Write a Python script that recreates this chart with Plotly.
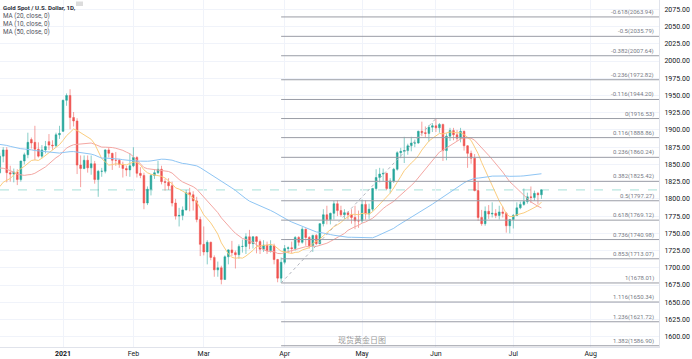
import pandas as pd
import plotly.graph_objects as go

# ---------------- data ----------------
# closes before the visible window (only used to warm up the moving averages)
warmup_close = [1868, 1862, 1881, 1898, 1886,
                1906, 1900, 1913, 1877, 1887, 1893, 1930, 1922, 1891, 1902, 1908,
                1899, 1905, 1907, 1925, 1904, 1902, 1902, 1908, 1878, 1868, 1879,
                1894, 1909, 1904, 1948, 1951, 1862, 1877, 1866, 1873, 1889, 1887,
                1879, 1872, 1866, 1871, 1837, 1807, 1808, 1811, 1788, 1777,
                1815, 1830, 1841, 1838]

opens = [1838, 1862, 1871, 1838, 1836, 1839, 1828, 1855, 1864, 1886, 1882, 1872, 1862, 1871, 1883, 1878, 1877, 1893,
         1898, 1943, 1950, 1918, 1913, 1849, 1844, 1856, 1845, 1851, 1828, 1840, 1840, 1871, 1866, 1856, 1856, 1850, 1844, 1842,
         1848, 1860, 1837, 1834, 1794, 1814, 1834, 1838, 1843, 1825, 1824, 1819, 1794, 1775, 1776, 1784, 1809, 1806, 1797, 1770,
         1734, 1723, 1737, 1715, 1697, 1700, 1683, 1716, 1726, 1722, 1719, 1731, 1731, 1745, 1735, 1745, 1738, 1727, 1733, 1725, 1732, 1712, 1685,
         1708, 1728, 1729, 1728, 1744, 1737, 1756, 1744, 1732, 1747, 1735, 1764, 1777, 1770, 1779, 1793, 1783, 1777, 1780, 1777, 1773, 1768,
         1768, 1792, 1778, 1785, 1815, 1831, 1836, 1837, 1815, 1826, 1843, 1867, 1869, 1870, 1877, 1881, 1881, 1898, 1896, 1895, 1904,
         1906, 1903, 1908, 1870, 1891, 1899, 1893, 1888, 1898, 1877, 1866, 1859, 1812, 1773, 1764, 1782, 1778, 1779, 1776, 1781, 1779, 1761,
         1770, 1776, 1787, 1792, 1796, 1803, 1802, 1808, 1806]
highs = [1867, 1875, 1875, 1848, 1844, 1843, 1855, 1867, 1896, 1889, 1906, 1882, 1878, 1884, 1894, 1885, 1896, 1906,
         1944, 1953, 1959, 1926, 1917, 1863, 1863, 1863, 1863, 1855, 1842, 1845, 1872, 1875, 1867, 1868, 1858, 1854, 1848, 1866,
         1875, 1862, 1846, 1838, 1818, 1836, 1843, 1855, 1848, 1829, 1830, 1825, 1800, 1787, 1789, 1813, 1816, 1811, 1803, 1774,
         1760, 1740, 1738, 1718, 1709, 1703, 1718, 1727, 1739, 1725, 1734, 1741, 1750, 1755, 1746, 1746, 1741, 1740, 1738, 1740, 1735, 1713, 1715,
         1733, 1731, 1738, 1746, 1746, 1759, 1757, 1746, 1748, 1749, 1765, 1785, 1790, 1780, 1797, 1798, 1790, 1785, 1782, 1785, 1790, 1783,
         1799, 1798, 1793, 1816, 1843, 1845, 1844, 1838, 1830, 1845, 1869, 1874, 1890, 1880, 1890, 1886, 1899, 1912, 1905, 1907, 1910,
         1916.5, 1910, 1909, 1895, 1903, 1903, 1900, 1903, 1899, 1878, 1870, 1865, 1825, 1784, 1789, 1791, 1795, 1785, 1790, 1789, 1781, 1771,
         1778, 1795, 1796, 1815, 1809, 1818, 1812, 1810, 1814]
lows = [1836, 1853, 1824, 1825, 1824, 1820, 1825, 1850, 1859, 1873, 1856, 1860, 1859, 1866, 1871, 1871, 1875, 1887,
        1897, 1935, 1901, 1905, 1836, 1817, 1843, 1838, 1835, 1822, 1803, 1832, 1837, 1860, 1842, 1848, 1845, 1831, 1833, 1832,
        1846, 1831, 1830, 1785, 1791, 1805, 1829, 1836, 1821, 1812, 1813, 1789, 1770, 1760, 1769, 1783, 1782, 1783, 1766, 1717,
        1718, 1705, 1711, 1687, 1687, 1676, 1683, 1705, 1717, 1699, 1713, 1722, 1720, 1727, 1728, 1721, 1720, 1723, 1720, 1722, 1705, 1679, 1678,
        1705, 1721, 1721, 1725, 1732, 1735, 1732, 1728, 1723, 1733, 1734, 1760, 1763, 1763, 1770, 1775, 1774, 1771, 1770, 1764, 1756, 1758,
        1765, 1770, 1771, 1782, 1812, 1824, 1826, 1813, 1808, 1823, 1841, 1859, 1852, 1864, 1869, 1875, 1880, 1891, 1889, 1883, 1897,
        1897, 1896, 1855, 1856, 1884, 1885, 1884, 1882, 1870, 1845, 1851, 1811, 1768, 1761, 1761, 1771, 1773, 1772, 1770, 1773, 1751, 1750,
        1757, 1775, 1785, 1790, 1793, 1794, 1797, 1792, 1800]
closes = [1862, 1871, 1838, 1836, 1839, 1828, 1855, 1864, 1882, 1881, 1872, 1862, 1871, 1876, 1878, 1877, 1893, 1895,
          1943, 1950, 1918, 1913, 1849, 1844, 1856, 1845, 1851, 1828, 1840, 1840, 1871, 1866, 1856, 1856, 1850, 1844, 1842, 1848,
          1860, 1837, 1834, 1794, 1814, 1834, 1838, 1843, 1825, 1824, 1819, 1794, 1775, 1776, 1784, 1809, 1806, 1797, 1770, 1734,
          1723, 1737, 1715, 1697, 1700, 1683, 1716, 1726, 1722, 1719, 1731, 1731, 1745, 1735, 1745, 1738, 1727, 1733, 1725, 1732, 1712, 1685, 1708,
          1728, 1729, 1728, 1744, 1737, 1756, 1744, 1732, 1747, 1735, 1764, 1777, 1770, 1779, 1793, 1783, 1777, 1780, 1777, 1773, 1768, 1768,
          1792, 1778, 1785, 1815, 1831, 1836, 1837, 1815, 1826, 1843, 1867, 1869, 1870, 1877, 1881, 1881, 1898, 1896, 1895, 1904, 1906,
          1903, 1908, 1870, 1891, 1899, 1893, 1888, 1898, 1877, 1866, 1859, 1812, 1773, 1764, 1782, 1778, 1779, 1776, 1781, 1779, 1761, 1770,
          1776, 1787, 1792, 1796, 1803, 1802, 1808, 1806, 1813]

holidays = ["2020-12-25", "2021-01-01"]
warmup_dates = pd.bdate_range("2020-09-24", "2020-12-04")
dates = [d for d in pd.bdate_range("2020-12-07", "2021-07-13") if d.strftime("%Y-%m-%d") not in holidays]
assert len(warmup_dates) == len(warmup_close)
assert len(dates) == len(opens) == len(highs) == len(lows) == len(closes)

# moving averages
ma_specs = [("MA (20, close, 0)", 20, "#f4a7a3"), ("MA (10, close, 0)", 10, "#fbcd7e"), ("MA (50, close, 0)", 50, "#8ec5f4")]

# fibonacci retracement drawn from the Mar-31 low to the Jun-1 high
fib_start = "2021-03-31"
fib_end = "2021-06-01"
fib_low = 1678.01
fib_high = 1916.53
fib_levels = ["-0.618", "-0.5", "-0.382", "-0.236", "-0.116", "0", "0.116", "0.236", "0.382",
              "0.5", "0.618", "0.736", "0.853", "1", "1.116", "1.236", "1.382"]
fib_prices = [2063.94, 2035.79, 2007.64, 1972.82, 1944.20, 1916.53, 1888.86, 1860.24, 1825.42,
              1797.27, 1769.12, 1740.98, 1713.07, 1678.01, 1650.34, 1621.72, 1586.90]

month_ticks = ["2021-01-04", "2021-02-01", "2021-03-01", "2021-04-01", "2021-05-03", "2021-06-01", "2021-07-01", "2021-08-02"]
month_text = ["<b>2021</b>", "Feb", "Mar", "Apr", "May", "Jun", "Jul", "Aug"]

title_text = "Gold Spot / U.S. Dollar, 1D,"
watermark = "现货黄金日图"

# ---------------- figure ----------------
all_dates = list(warmup_dates) + list(dates)
all_close = pd.Series(warmup_close + closes, index=all_dates)

fig = go.Figure()

for name, n, col in ma_specs:
    ma = all_close.rolling(n).mean().dropna()
    fig.add_trace(go.Scatter(x=ma.index, y=ma.values, mode="lines", name=name,
                             line=dict(color=col, width=1), hoverinfo="skip"))

fig.add_trace(go.Candlestick(
    x=dates, open=opens, high=highs, low=lows, close=closes,
    increasing=dict(line=dict(color="rgba(38,166,154,0.55)", width=1), fillcolor="#26a69a"),
    decreasing=dict(line=dict(color="rgba(239,83,80,0.55)", width=1), fillcolor="#ef5350"),
    whiskerwidth=0, name="XAUUSD"))

shapes = []
for lv, p in zip(fib_levels, fib_prices):
    shapes.append(dict(type="line", xref="x", yref="y", x0=fib_start, x1="2021-12-31", y0=p, y1=p,
                       line=dict(color="#9a9da6", width=1), layer="above"))
# trend line of the fib tool
shapes.append(dict(type="line", xref="x", yref="y", x0=fib_start, x1=fib_end, y0=fib_low, y1=fib_high,
                   line=dict(color="#b2b5be", width=1, dash="dot"), layer="above"))
# last price line
shapes.append(dict(type="line", xref="paper", yref="y", x0=0, x1=1, y0=closes[-1], y1=closes[-1],
                   line=dict(color="#a6e0d8", width=1, dash="dash"), layer="below"))
# hidden exchange badge in the title row
shapes.append(dict(type="rect", xref="paper", yref="paper", x0=76/659, x1=83/659, y0=1-6/347, y1=1-1.5/347,
                   fillcolor="#dcdcdc", line=dict(width=0)))

annotations = []
for lv, p in zip(fib_levels, fib_prices):
    annotations.append(dict(xref="paper", yref="y", x=656/659, y=p, xanchor="right", yanchor="bottom",
                            text=f"{lv}({p:.2f})", showarrow=False, yshift=-1,
                            font=dict(size=6, color="#787b86", family="Roboto")))

legend_rows = [(title_text, 7, True)] + [(s[0], yy, False) for s, yy in zip(ma_specs, [15.5, 24, 32.5])]
for txt, ypix, bold in legend_rows:
    annotations.append(dict(xref="paper", yref="paper", x=1/659, y=1-ypix/347, xanchor="left", yanchor="middle",
                            text=f"<b>{txt}</b>" if bold else txt, showarrow=False,
                            font=dict(size=6.1 if bold else 6.3, color="#2a2e39" if bold else "#50535e", family="Roboto")))

annotations.append(dict(xref="paper", yref="paper", x=362/659, y=1-339.5/347, xanchor="center", yanchor="middle",
                        text=watermark, showarrow=False,
                        font=dict(size=8, color="#9a9a9a", family="Noto Sans CJK SC")))

fig.update_layout(
    width=692, height=359,
    margin=dict(l=0, r=33, t=0, b=12, autoexpand=False),
    paper_bgcolor="white", plot_bgcolor="white",
    showlegend=False,
    shapes=shapes, annotations=annotations,
    font=dict(family="Roboto", size=7, color="#131722"),
    xaxis=dict(type="date", automargin=False,
               range=["2020-12-07 02:00", "2021-08-27 10:00"],
               rangebreaks=[dict(bounds=["sat", "mon"]), dict(values=holidays)],
               rangeslider=dict(visible=False),
               tickmode="array", tickvals=month_ticks, ticktext=month_text,
               showgrid=True, gridcolor="#f0f3fa", gridwidth=1,
               showline=True, linecolor="#e0e3eb", linewidth=1,
               ticks="", ticklabelstandoff=0, tickfont=dict(size=7, color="#131722"), zeroline=False),
    yaxis=dict(side="right", automargin=False, range=[1585.1, 2088.5], dtick=25, tick0=1600, tickformat=".2f",
               showgrid=True, gridcolor="#f0f3fa", gridwidth=1,
               showline=True, linecolor="#e0e3eb", linewidth=1,
               ticks="", ticklabelstandoff=3, tickfont=dict(size=7, color="#131722"), zeroline=False),
)

fig.write_html("out.html", config={"displayModeBar": False},
               post_script="document.body.style.margin='0px';")
